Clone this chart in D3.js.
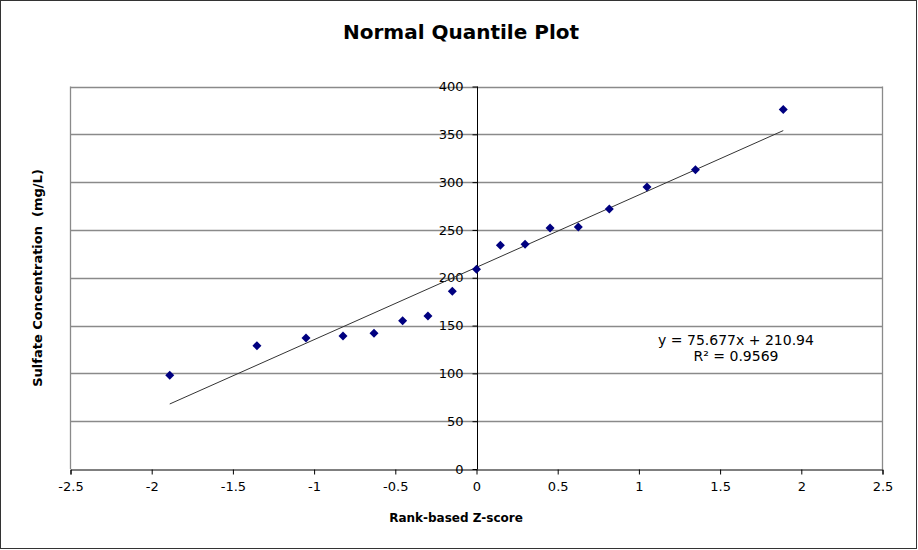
<!DOCTYPE html>
<html>
<head>
<meta charset="utf-8">
<script src="https://cdn.jsdelivr.net/npm/d3@7"></script>
<style>
  body { margin: 0; background: #fff; }
  svg text { font-family: "DejaVu Sans", Verdana, sans-serif; }
</style>
</head>
<body>
<svg id="chart" width="918" height="550"></svg>
<script>
// rank-based z-scores and sulfate concentrations (mg/L)
var zScores = [-1.889, -1.352, -1.050, -0.822, -0.631, -0.455, -0.299, -0.149, 0,
               0.147, 0.299, 0.453, 0.627, 0.818, 1.050, 1.348, 1.889];
var sulfate = [98, 129, 137, 139, 142, 155, 160, 186, 209,
               234, 235, 252, 253, 272, 295, 313, 376];

var xTicks = [-2.5, -2, -1.5, -1, -0.5, 0, 0.5, 1, 1.5, 2, 2.5];
var yTicks = [0, 50, 100, 150, 200, 250, 300, 350, 400];

// trendline as reported
var slope = 75.677;
var intercept = 210.94;
var eqLines = ["y = 75.677x + 210.94", "R\u00b2 = 0.9569"];

var svg = d3.select("#chart");

var plot = { left: 70.5, top: 86.5, right: 882.5, bottom: 469 };

var x = d3.scaleLinear().domain([-2.5, 2.5]).range([plot.left, plot.right]);
var y = d3.scaleLinear().domain([0, 400]).range([plot.bottom, plot.top]);

// outer frame
svg.append("rect")
    .attr("x", 0.5).attr("y", 0.5)
    .attr("width", 916).attr("height", 548)
    .attr("fill", "#fff")
    .attr("stroke", "#333").attr("stroke-width", 1);

// title
svg.append("text")
    .attr("x", 461).attr("y", 39)
    .attr("text-anchor", "middle")
    .attr("font-weight", "bold")
    .attr("font-size", 20)
    .text("Normal Quantile Plot");

// gridlines
svg.append("g")
    .selectAll("line")
    .data(yTicks.filter(function(d) { return d > 0; }))
    .enter()
    .append("line")
        .attr("x1", plot.left).attr("x2", plot.right)
        .attr("y1", function(d) { return Math.round(y(d)) + 0.5; })
        .attr("y2", function(d) { return Math.round(y(d)) + 0.5; })
        .attr("stroke", "#8a8a8a").attr("stroke-width", 1.3);

// plot frame (left, right)
svg.append("path")
    .attr("d", "M" + plot.left + "," + plot.bottom + "V" + plot.top + "M" + plot.right + "," + plot.top + "V" + plot.bottom)
    .attr("fill", "none")
    .attr("stroke", "#8a8a8a").attr("stroke-width", 1.3);

// x axis
var xAxis = d3.axisBottom(x)
    .tickValues(xTicks)
    .tickSize(5);

var gx = svg.append("g")
    .attr("transform", "translate(0," + (plot.bottom + 0.5) + ")")
    .call(xAxis);
gx.select(".domain").attr("stroke", "#000");
gx.selectAll(".tick line").attr("stroke", "#000");
gx.selectAll("text")
    .attr("font-family", "DejaVu Sans, Verdana, sans-serif")
    .attr("font-size", 13)
    .attr("fill", "#000")
    .attr("dy", "1.0em")
    .text(function(d) { return String(d); });

// y axis at x = 0
var yAxis = d3.axisLeft(y)
    .tickValues(yTicks)
    .tickSize(5)
    .tickPadding(9)
    .tickFormat(d3.format("d"));

var gy = svg.append("g")
    .attr("transform", "translate(" + (Math.round(x(0)) + 0.5) + ",0)")
    .call(yAxis);
gy.select(".domain").attr("stroke", "#000").attr("d", "M0," + plot.top + "V" + plot.bottom);
gy.selectAll(".tick line").attr("stroke", "#000");
gy.selectAll("text")
    .attr("font-family", "DejaVu Sans, Verdana, sans-serif")
    .attr("font-size", 13)
    .attr("fill", "#000");

// trendline
var xExt = d3.extent(zScores);
svg.append("line")
    .attr("x1", x(xExt[0])).attr("y1", y(slope * xExt[0] + intercept))
    .attr("x2", x(xExt[1])).attr("y2", y(slope * xExt[1] + intercept))
    .attr("stroke", "#333").attr("stroke-width", 1);

// points
svg.append("g")
    .selectAll("path")
    .data(zScores.map(function(z, i) { return [z, sulfate[i]]; }))
    .enter()
    .append("path")
        .attr("transform", function(d) { return "translate(" + x(d[0]) + "," + y(d[1]) + ")"; })
        .attr("d", "M0,-4.5L4.5,0L0,4.5L-4.5,0Z")
        .attr("fill", "#000080");

// equation label
svg.append("g")
    .selectAll("text")
    .data(eqLines)
    .enter()
    .append("text")
        .attr("x", 736)
        .attr("y", function(_, i) { return 345 + i * 16; })
        .attr("text-anchor", "middle")
        .attr("font-size", 14)
        .text(function(d) { return d; });

// axis titles
svg.append("text")
    .attr("x", 456).attr("y", 522)
    .attr("text-anchor", "middle")
    .attr("font-weight", "bold")
    .attr("font-size", 12)
    .text("Rank-based Z-score");

svg.append("text")
    .attr("transform", "translate(42,278) rotate(-90)")
    .attr("text-anchor", "middle")
    .attr("font-weight", "bold")
    .attr("font-size", 13)
    .attr("xml:space", "preserve")
    .text("Sulfate Concentration  (mg/L)");
</script>
</body>
</html>
